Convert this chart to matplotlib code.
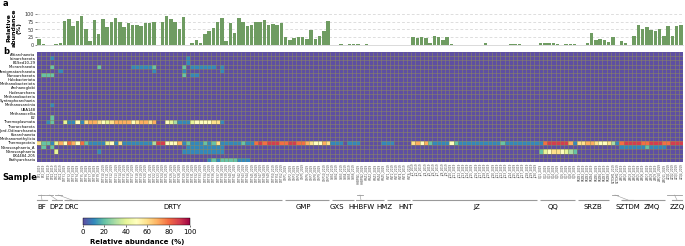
import numpy as np
import matplotlib
matplotlib.use("Agg")
import matplotlib.pyplot as plt
from matplotlib.transforms import blended_transform_factory

W, H = 685, 246

phyla = ["Altiarchaeota", "Iainarchaeota", "B1Sed10-29", "Micrarchaeota",
         "Aenigmatarchaeota", "Nanoarchaeota", "Halobacteriota", "Methanobacteriota",
         "Archaeoglobi", "Hadesarchaea", "Methanobacteria", "Syntrophoarchaeia",
         "Methanosarcinia", "UBA148", "Methanocellia", "E2", "Thermoplasmata",
         "Thorarchaeota", "Jord-Odinarchaeota", "Korarchaeota", "Methanomethylicia",
         "Thermoproteia", "Nitrososphaeria_A", "Nitrososphaeria", "EX4484-205",
         "Bathyarchaeia"]

groups = ["BF", "DPZ", "DRC", "DRTY", "GMP", "GXS", "HHBFW", "HMZ", "HNT",
          "JZ", "QQ", "SRZB", "SZTDM", "ZMQ", "ZZQ"]
group_sizes = [2, 2, 2, 52, 11, 6, 2, 5, 6, 30, 9, 8, 2, 11, 4]
group_label_px = [42, 57, 72, 172, 303, 337, 361, 384, 406, 477, 553, 593, 628, 652, 677]

bar_values = [20, 3, 1, 0, 2, 8, 78, 83, 62, 77, 95, 53, 13, 82, 35, 85, 58, 73, 87, 74,
              57, 70, 66, 65, 62, 70, 70, 73, 0, 75, 93, 83, 73, 50, 90, 0,
              7, 15, 7, 35, 45, 55, 75, 87, 12, 72, 38, 88, 75, 60, 65, 75, 75, 80, 65, 68, 66, 70,
              25, 15, 23, 25, 25, 20, 48, 20, 28, 45, 77,
              1, 0, 3, 1, 4, 4, 4, 0, 4, 0, 0, 0, 0, 0, 0, 0, 0, 0, 0,
              27, 23, 27, 23, 8, 30, 25, 15, 27, 2, 1, 1, 1, 1, 1, 0, 0.5, 7, 1, 0, 0, 0, 0,
              2, 2, 2, 1, 0, 0, 0,
              8, 7, 5, 5, 3, 1, 3, 2, 2, 0, 0, 5, 40, 15, 20, 15, 10, 25, 0,
              13, 7, 0, 30, 65, 53, 58, 47, 45, 50, 28, 62, 28, 62, 63]

N = sum(group_sizes)

# heat values, one character per sample: '0'..'9' -> 0..90 %, 'X' -> 100 %
heat_rows = [
    "",                                                    # Altiarchaeota
    "0001" + "0" * 31 + "1",                               # Iainarchaeota
    "0" * 35 + "1",                                        # B1Sed10-29
    "0002000000" "0000200000" "0011111200" "0000201111" "1101",  # Micrarchaeota
    "0000010000" "0000000000" "0000000100" "0000100000" "0001",  # Aenigmatarchaeota
    "0222000000" "0000000000" "0000000000" "0000201100",    # Nanoarchaeota
    "", "", "", "", "", "",
    "0001",                                                # Methanosarcinia
    "", "",
    "0002",                                                # E2
    "0012004115" "1677654677" "7756776700" "5431114555" "5661",  # Thermoplasmata
    "", "", "", "",
    "6221475875" "8211114516" "1111111399" "5557121112" "1261"   # Thermoproteia
    "1111211" "898999889988" "765576" "1110111000001110000"
    "67572" "11115" "21111" "11111" "12111" "11111"
    "189999971" "66776556" "31" "89999889998" "8999",
    "0202000000" "0000000000" "0000000000" "0000011111"     # Nitrososphaeria_A
    "1111" + "0" * 93 + "11111121111",
    "0000400000" "0000100000" "0000000000" "0000111111"     # Nitrososphaeria
    "1111" + "0" * 74 + "245665432",
    "",
    "0" * 40 + "1212222111",                               # Bathyarchaeia
]

level = {str(d): d * 10 for d in range(10)}
level["X"] = 100

sample_labels = []
for g, n in zip(groups, group_sizes):
    for i in range(n):
        sample_labels.append(f"{g}{i + 1}_2019")

M = np.array([[level[c] for c in r.ljust(N, "0")[:N]] for r in heat_rows], dtype=float)
R = len(phyla)

fig = plt.figure(figsize=(W / 100, H / 100), dpi=100)

x0, x1 = 37, 683
ax_bar = fig.add_axes([x0 / W, 1 - 45 / H, (x1 - x0) / W, 31 / H])
ax_hm = fig.add_axes([x0 / W, 1 - 162 / H, (x1 - x0) / W, 110 / H])
cax = fig.add_axes([83 / W, 1 - 225 / H, 107 / W, 7 / H])

# ---- bar panel
xs = np.arange(N)
ax_bar.bar(xs, bar_values, width=0.86, color="#6f9c62", zorder=3)
ax_bar.set_xlim(-0.5, N - 0.5)
ax_bar.set_ylim(0, 100)
ax_bar.set_yticks([0, 25, 50, 75, 100])
ax_bar.tick_params(axis="y", labelsize=3.5, length=1.5, width=0.4, pad=1, colors="#333333")
ax_bar.set_xticks([])
for s in ["top", "right", "left"]:
    ax_bar.spines[s].set_visible(False)
ax_bar.spines["bottom"].set_color("#cccccc")
ax_bar.spines["bottom"].set_linewidth(0.5)
ax_bar.yaxis.grid(True, linestyle=(0, (4, 3)), color="#d0d0d0", linewidth=0.5, zorder=0)
ax_bar.set_axisbelow(True)

fig.text(14 / W, 1 - 28 / H, "Relative\nabundance\n(%)", rotation=90, ha="center",
         va="center", fontsize=4.5, fontweight="bold", multialignment="center",
         linespacing=1.1)
fig.text(3 / W, 1 - 4 / H, "a", fontsize=6, fontweight="bold", ha="left", va="center")
fig.text(3 / W, 1 - 52 / H, "b", fontsize=6, fontweight="bold", ha="left", va="center")

# ---- heatmap
mesh = ax_hm.pcolormesh(np.arange(N + 1), np.arange(R + 1), M,
                        cmap="Spectral_r", vmin=0, vmax=100, linewidth=0)
ax_hm.vlines(np.arange(1, N), 0, R, colors="#8f8a5e", linewidth=0.4, alpha=0.9)
ax_hm.hlines(np.arange(1, R), 0, N, colors="#8f8a5e", linewidth=0.4, alpha=0.9)
ax_hm.set_xlim(0, N)
ax_hm.set_ylim(R, 0)
ax_hm.set_yticks(np.arange(R) + 0.5)
ax_hm.set_yticklabels(phyla, fontsize=2.7)
ax_hm.set_xticks(np.arange(N) + 0.5)
ax_hm.set_xticklabels(sample_labels, fontsize=2.0, rotation=90, color="#444444")
ax_hm.tick_params(length=0, pad=1)
for s in ax_hm.spines.values():
    s.set_visible(False)

fig.text(20 / W, 1 - 177 / H, "Sample", fontsize=6, fontweight="bold", ha="center", va="center")

# ---- group brackets
tr = blended_transform_factory(ax_hm.transData, fig.transFigure)
y_line = 1 - 200 / H
y_top = 1 - 195 / H
y_lab = 1 - 207 / H
start = 0
for g, n, lpx in zip(groups, group_sizes, group_label_px):
    lx = (lpx - x0) / (x1 - x0) * N
    cx = start + n / 2
    if n >= 5:
        ax_hm.plot([start + 0.3, start + n - 0.3], [y_line, y_line], transform=tr,
                   color="#9a9a9a", lw=0.8, clip_on=False, solid_capstyle="butt")
    else:
        ax_hm.plot([start + 0.2, start + n - 0.2], [y_top, y_top], transform=tr,
                   color="#9a9a9a", lw=0.6, clip_on=False)
        ax_hm.plot([cx, lx], [y_top, y_line], transform=tr,
                   color="#9a9a9a", lw=0.4, clip_on=False)
        ax_hm.plot([lx - 1.2, lx + 1.2], [y_line, y_line], transform=tr,
                   color="#9a9a9a", lw=0.8, clip_on=False)
    ax_hm.text(lx, y_lab, g, transform=tr, ha="center", va="center", fontsize=5)
    start += n

# ---- colorbar
cb = fig.colorbar(mesh, cax=cax, orientation="horizontal")
cb.set_ticks([0, 20, 40, 60, 80, 100])
cb.ax.tick_params(labelsize=5, length=1.5, width=0.4, pad=1.5)
cb.outline.set_linewidth(0.3)
fig.text(137 / W, 1 - 242 / H, "Relative abundance (%)", fontsize=5, fontweight="bold",
         ha="center", va="center")

fig.savefig("out.png", dpi=100)
